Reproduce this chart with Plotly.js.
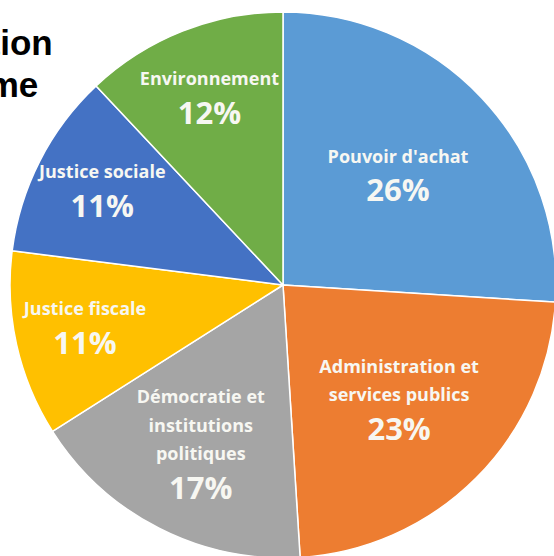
<!DOCTYPE html>
<html>
<head>
<meta charset="utf-8">
<script src="https://cdn.plot.ly/plotly-3.0.1.min.js"></script>
<style>
html,body{margin:0;padding:0;background:#fff;overflow:hidden;}
#chart{width:600px;height:600px;}
</style>
</head>
<body>
<div id="chart"></div>
<script>
// Data
var categories = ["Pouvoir d'achat", "Administration et<br>services publics", "Démocratie et<br>institutions<br>politiques", "Justice fiscale", "Justice sociale", "Environnement"];
var values = [26, 23, 17, 11, 11, 12];
var colors = ["#5B9BD5", "#ED7D31", "#A5A5A5", "#FFC000", "#4472C4", "#70AD47"];
var titleLines = ["Répartition", "par thème"];

var trace = {
  type: 'pie',
  labels: categories,
  values: values,
  sort: false,
  direction: 'clockwise',
  rotation: 0,
  marker: {colors: colors, line: {color: '#ffffff', width: 1.5}},
  textinfo: 'label+percent',
  texttemplate: "<span style='font-size:18px'>%{label}</span><br><span style='font-size:31px;baseline-shift:-10px'>%{percent:.0%}</span>",
  textposition: 'inside',
  insidetextorientation: 'horizontal',
  textfont: {family: '"Open Sans", Lato, sans-serif', size: 22, color: '#F7F7F2', weight: 'bold'},
  hoverinfo: 'none',
  showlegend: false,
  domain: {x: [10/600, 556/600], y: [1 - 558/600, 1 - 12/600]}
};

var layout = {
  width: 600, height: 600,
  margin: {l: 0, r: 0, t: 0, b: 0},
  paper_bgcolor: '#ffffff',
  showlegend: false,
  uniformtext: {minsize: 22, mode: 'show'},
  annotations: [
    {text: titleLines[0], xref: 'paper', yref: 'paper', x: 55/600, y: 1 - 42/600, xanchor: 'right', yanchor: 'middle', showarrow: false,
     font: {family: '"Liberation Sans", Arial, sans-serif', size: 35, color: '#000', weight: 'bold'}},
    {text: titleLines[1], xref: 'paper', yref: 'paper', x: 40/600, y: 1 - 85/600, xanchor: 'right', yanchor: 'middle', showarrow: false,
     font: {family: '"Liberation Sans", Arial, sans-serif', size: 35, color: '#000', weight: 'bold'}}
  ]
};

Plotly.newPlot('chart', [trace], layout, {displayModeBar: false, staticPlot: true});
</script>
</body>
</html>
